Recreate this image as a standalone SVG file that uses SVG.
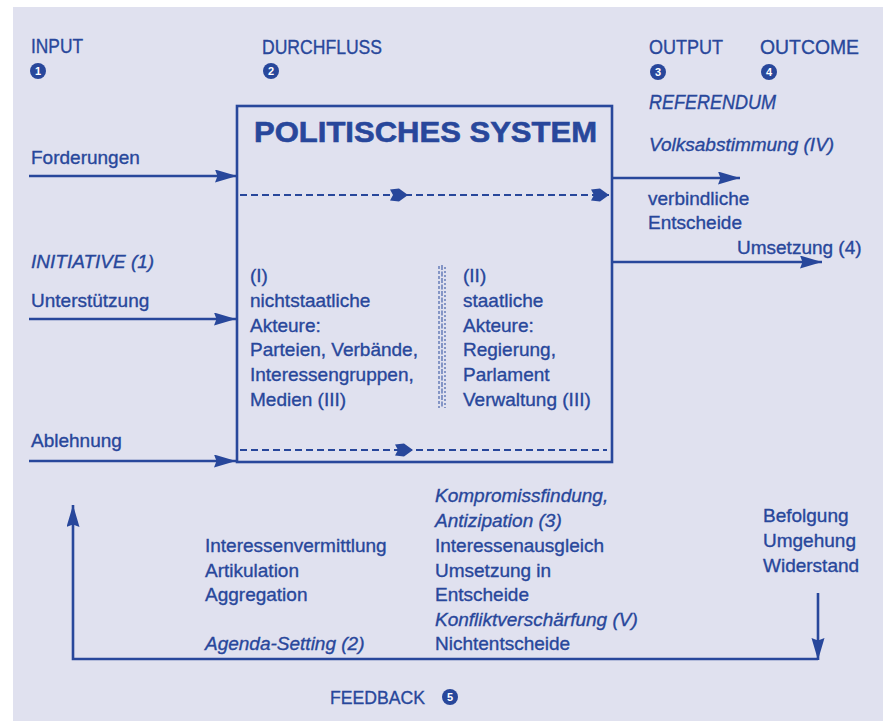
<svg xmlns="http://www.w3.org/2000/svg" width="890" height="721" viewBox="0 0 890 721">
<defs>
<style>
text{font-family:"Liberation Sans",Arial,sans-serif;fill:#28479b;font-size:19px;stroke:#28479b;stroke-width:0.35}
.i{font-style:italic}
.h{font-size:20px}
.t{font-size:29px;font-weight:bold;stroke-width:0.6}
.n{fill:#ffffff;stroke:none;font-size:11px;font-weight:bold;text-anchor:middle}
.dot{fill:#28479b}
.ln{stroke:#28479b;stroke-width:2.6;fill:none}
.ds{stroke:#28479b;stroke-width:2.2;fill:none;stroke-dasharray:7 4}
.sep{stroke:#28479b;stroke-width:1.4;fill:none;opacity:.7}
</style>
<marker id="ah" markerUnits="userSpaceOnUse" markerWidth="24" markerHeight="14" refX="22" refY="6.5" orient="auto">
<path d="M0,0 L22,6.5 L0,13 L2.5,6.5 z" fill="#28479b"/>
</marker>
<marker id="bh" markerUnits="userSpaceOnUse" markerWidth="20" markerHeight="16" refX="18" refY="7.5" orient="auto">
<path d="M0,2 L9,1 L18,7.5 L9,14 L0,13 L3,7.5 z" fill="#28479b"/>
</marker>
</defs>
<rect x="0" y="0" width="890" height="721" fill="#ffffff"/>
<rect x="13" y="7" width="870" height="714" fill="#e0e1ef"/>

<g id="headers">
<text class="h" x="31" y="53" textLength="52" lengthAdjust="spacingAndGlyphs">INPUT</text>
<circle class="dot" cx="38" cy="71" r="8"/><text class="n" x="38" y="75">1</text>
<text class="h" x="262" y="54" textLength="120" lengthAdjust="spacingAndGlyphs">DURCHFLUSS</text>
<circle class="dot" cx="271" cy="71" r="8"/><text class="n" x="271" y="75">2</text>
<text class="h" x="649" y="54" textLength="74" lengthAdjust="spacingAndGlyphs">OUTPUT</text>
<circle class="dot" cx="658" cy="72" r="8"/><text class="n" x="658" y="76">3</text>
<text class="h" x="760" y="54" textLength="99" lengthAdjust="spacingAndGlyphs">OUTCOME</text>
<circle class="dot" cx="769" cy="72" r="8"/><text class="n" x="769" y="76">4</text>
<text class="h i" x="649" y="109" textLength="127" lengthAdjust="spacingAndGlyphs">REFERENDUM</text>
</g>

<g id="system">
<rect class="ln" x="237" y="106" width="375" height="356"/>
<text class="t" x="254" y="142" textLength="343" lengthAdjust="spacingAndGlyphs">POLITISCHES SYSTEM</text>
<g id="sep">
<line class="sep" x1="439" y1="266" x2="439" y2="408" stroke-dasharray="3 2"/>
<line class="sep" x1="442" y1="265" x2="442" y2="407" stroke-dasharray="5 1.5"/>
<line class="sep" x1="445" y1="267" x2="445" y2="408" stroke-dasharray="2 2"/>
</g>
</g>

<g id="nonstate">
<text x="250" y="282">(I)</text>
<text x="250" y="307">nichtstaatliche</text>
<text x="250" y="332">Akteure:</text>
<text x="250" y="356">Parteien, Verbände,</text>
<text x="250" y="381">Interessengruppen,</text>
<text x="250" y="406">Medien (III)</text>
</g>

<g id="state">
<text x="463" y="282">(II)</text>
<text x="463" y="307">staatliche</text>
<text x="463" y="332">Akteure:</text>
<text x="463" y="356">Regierung,</text>
<text x="463" y="381">Parlament</text>
<text x="463" y="406">Verwaltung (III)</text>
</g>

<g id="inputs">
<text x="31" y="164">Forderungen</text>
<text class="i" x="31" y="268">INITIATIVE (1)</text>
<text x="31" y="307">Unterstützung</text>
<text x="31" y="447">Ablehnung</text>
</g>

<g id="outputs">
<text class="i" x="649" y="151">Volksabstimmung (IV)</text>
<text x="648" y="205">verbindliche</text>
<text x="648" y="229">Entscheide</text>
<text x="737" y="254">Umsetzung (4)</text>
</g>

<g id="mediation">
<text x="205" y="552">Interessenvermittlung</text>
<text x="205" y="577">Artikulation</text>
<text x="205" y="601">Aggregation</text>
<text class="i" x="205" y="650">Agenda-Setting (2)</text>
</g>

<g id="decision">
<text class="i" x="435" y="502">Kompromissfindung,</text>
<text class="i" x="435" y="527">Antizipation (3)</text>
<text x="435" y="552">Interessenausgleich</text>
<text x="435" y="577">Umsetzung in</text>
<text x="435" y="601">Entscheide</text>
<text class="i" x="435" y="626">Konfliktverschärfung (V)</text>
<text x="435" y="650">Nichtentscheide</text>
</g>

<g id="outcome">
<text x="763" y="522">Befolgung</text>
<text x="763" y="547">Umgehung</text>
<text x="763" y="572">Widerstand</text>
</g>

<g id="feedback">
<text x="330" y="704" textLength="95" lengthAdjust="spacingAndGlyphs">FEEDBACK</text>
<circle class="dot" cx="450" cy="697" r="8"/><text class="n" x="450" y="701">5</text>
</g>

<g id="connectors">
<path class="ln" d="M29 176 H237" marker-end="url(#ah)"/>
<path class="ln" d="M29 319 H236" marker-end="url(#ah)"/>
<path class="ln" d="M29 461 H236" marker-end="url(#ah)"/>
<path class="ln" d="M612 178 H740" marker-end="url(#ah)"/>
<path class="ln" d="M612 262 H822" marker-end="url(#ah)"/>
<path class="ds" d="M240 195 L408 195 L609 195" marker-mid="url(#bh)" marker-end="url(#bh)"/>
<path class="ds" d="M240 450 L413 450 L607 450" marker-mid="url(#bh)"/>
<path class="ln" d="M818 593 V660" marker-end="url(#ah)"/>
<path class="ln" d="M818 659 H73 V505" marker-end="url(#ah)"/>
</g>
</svg>
